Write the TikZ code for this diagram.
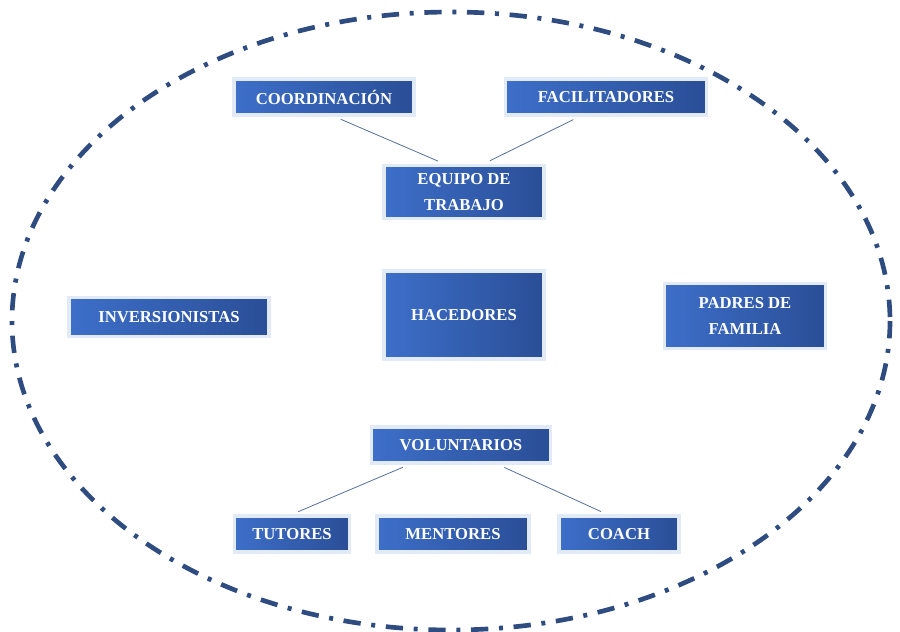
\documentclass[tikz,border=0pt]{standalone}
\usepackage{fontspec}
\setmainfont{Liberation Serif}
\definecolor{boxleft}{HTML}{3D6FC9}
\definecolor{boxright}{HTML}{2A4E96}
\definecolor{rim}{HTML}{2E4C80}
\definecolor{joint}{HTML}{55709C}
\tikzset{
  caja/.style={left color=boxleft,right color=boxright,draw=boxleft!15,line width=2.5pt,
    text=white,font=\fontsize{12.5}{19}\selectfont\bfseries,align=center,inner sep=2pt},
  enlace/.style={joint,line width=0.6pt,shorten <=5pt,shorten >=5pt}
}
\begin{document}
\begin{tikzpicture}[x=0.75pt,y=-0.75pt]
\useasboundingbox (0,0) rectangle (900,632);
\draw[rim,line width=3.5pt,dash pattern=on 13pt off 8pt on 3pt off 8pt] (451,321) ellipse (439 and 309);
\node[caja,minimum width=135pt,minimum height=27pt] (coord) at (324,97) {COORDINACIÓN};
\node[caja,minimum width=151pt,minimum height=27pt] (facil) at (606,97) {FACILITADORES};
\node[caja,minimum width=120pt,minimum height=40pt] (equipo) at (464,192) {EQUIPO DE\\TRABAJO};
\node[caja,minimum width=120pt,minimum height=66pt] (hacedores) at (464,315) {HACEDORES};
\node[caja,minimum width=150pt,minimum height=29pt] (invers) at (169,317) {INVERSIONISTAS};
\node[caja,minimum width=121pt,minimum height=49pt] (padres) at (745,316) {PADRES DE\\FAMILIA};
\node[caja,minimum width=134pt,minimum height=27pt] (volunt) at (461,445) {VOLUNTARIOS};
\node[caja,minimum width=86pt,minimum height=27pt] (tutores) at (292,534) {TUTORES};
\node[caja,minimum width=114pt,minimum height=27pt] (mentores) at (453,534) {MENTORES};
\node[caja,minimum width=90pt,minimum height=27pt] (coach) at (619,534) {COACH};
\draw[enlace] ([xshift=8pt]coord.south) -- ([xshift=-15pt]equipo.north);
\draw[enlace] ([xshift=-20pt]facil.south) -- ([xshift=15pt]equipo.north);
\draw[enlace] ([xshift=-39pt]volunt.south) -- (tutores.north);
\draw[enlace] ([xshift=28pt]volunt.south) -- ([xshift=-9pt]coach.north);
\end{tikzpicture}
\end{document}
